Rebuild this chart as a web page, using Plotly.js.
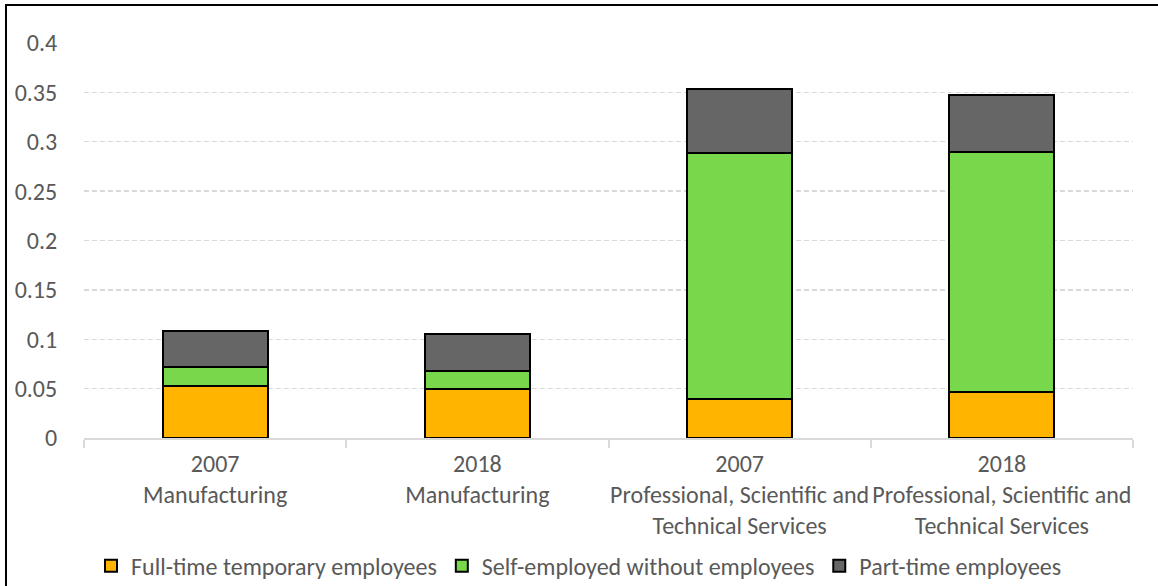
<!DOCTYPE html>
<html>
<head>
<meta charset="utf-8">
<script src="https://cdn.plot.ly/plotly-3.0.1.min.js"></script>
<style>
  html, body { margin: 0; padding: 0; background: #fff; }
  #wrap { position: relative; width: 1158px; height: 586px; overflow: hidden; }
  #chart { position: absolute; left: 0; top: 0; width: 1158px; height: 586px; }
  #frame { position: absolute; left: 5px; top: 4px; width: 1200px; height: 700px;
           border-top: 2px solid #000; border-left: 2px solid #000; pointer-events: none; }
</style>
</head>
<body>
<div id="wrap">
  <div id="chart"></div>
  <div id="frame"></div>
</div>
<script>
const categories = [
  "2007<br>Manufacturing",
  "2018<br>Manufacturing",
  "2007<br>Professional, Scientific and<br>Technical Services",
  "2018<br>Professional, Scientific and<br>Technical Services"
];
const fullTimeTemporary = [0.053, 0.050, 0.040, 0.047];
const selfEmployed = [0.019, 0.018, 0.249, 0.243];
const partTime = [0.036, 0.037, 0.064, 0.057];
const yTicks = [0, 0.05, 0.1, 0.15, 0.2, 0.25, 0.3, 0.35, 0.4];
const yTickLabels = ["0", "0.05", "0.1", "0.15", "0.2", "0.25", "0.3", "0.35", "0.4"];

const font = "Carlito, 'Liberation Sans Narrow', 'DejaVu Sans Condensed', 'Noto Sans', sans-serif";
const txt = "#595959";

function bar(name, y, color) {
  return {
    type: "bar", name: name, x: categories, y: y,
    marker: { color: color, line: { color: "#000", width: 2 } },
    width: 0.4, hoverinfo: "skip"
  };
}

const data = [
  bar("Full-time temporary employees", fullTimeTemporary, "#FFB400"),
  bar("Self-employed without employees", selfEmployed, "#78D74B"),
  bar("Part-time employees", partTime, "#666666")
];

const layout = {
  width: 1158, height: 586,
  margin: { l: 84, r: 25, t: 43, b: 148, pad: 0, autoexpand: false },
  paper_bgcolor: "#fff", plot_bgcolor: "#fff",
  barmode: "stack",
  font: { family: font, size: 24, color: txt },
  xaxis: {
    type: "category", automargin: false, tickangle: 0,
    showline: true, linecolor: "#d9d9d9", linewidth: 2,
    ticks: "outside", tickson: "boundaries", ticklen: 8, tickcolor: "#d9d9d9", tickwidth: 2,
    ticklabelstandoff: 3,
    showgrid: false, zeroline: false,
    tickfont: { family: font, size: 24, color: txt }
  },
  yaxis: {
    range: [0, 0.4], tickvals: yTicks, ticktext: yTickLabels, automargin: false,
    showgrid: true, gridcolor: "#d9d9d9", griddash: "5px,3px", gridwidth: 1.3,
    zeroline: false, showline: false,
    ticks: "outside", ticklen: 21, tickcolor: "rgba(0,0,0,0)",
    tickfont: { family: font, size: 24, color: txt }
  },
  legend: {
    orientation: "h", x: 0.5, xref: "container", xanchor: "center",
    y: 0.034, yref: "container", yanchor: "middle",
    font: { family: font, size: 24, color: txt },
    traceorder: "normal"
  },
  showlegend: true
};

Plotly.newPlot("chart", data, layout, { displayModeBar: false, staticPlot: true });
</script>
</body>
</html>
